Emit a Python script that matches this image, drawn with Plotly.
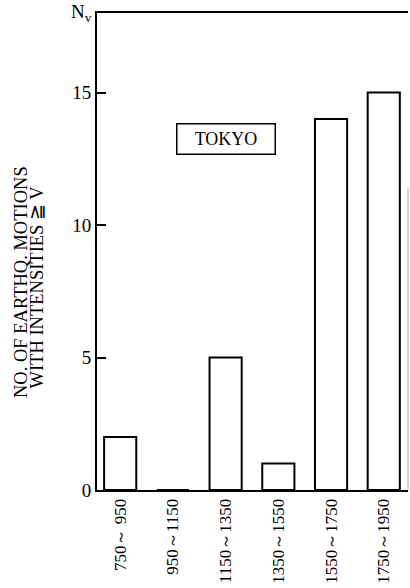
import plotly.graph_objects as go

categories = ["750～ 950", "950～1150", "1150～1350", "1350～1550", "1550～1750", "1750～1950"]
counts = [2, 0, 5, 1, 14, 15]
y_ticks = [0, 5, 10, 15]

SERIF = "Liberation Serif, Times New Roman, DejaVu Serif, serif"

fig = go.Figure()
fig.add_trace(go.Bar(
    x=categories, y=counts, width=0.61,
    marker=dict(color="white", line=dict(color="black", width=2)),
))

fig.update_layout(
    width=410, height=588,
    margin=dict(l=97, r=2, t=13, b=98, autoexpand=False),
    paper_bgcolor="white", plot_bgcolor="white",
    showlegend=False,
    font=dict(family=SERIF, color="black", size=18),
    xaxis=dict(
        type="category", range=[-0.44, 5.46], automargin=False,
        showline=True, linecolor="black", linewidth=2, mirror=True,
        ticks="", tickangle=-90, showgrid=False, zeroline=False,
        tickfont=dict(family=SERIF, size=17),
    ),
    yaxis=dict(
        range=[0, 18], tickvals=y_ticks, automargin=False,
        showline=True, linecolor="black", linewidth=2,
        ticks="inside", ticklen=9, tickwidth=1.5, tickcolor="black",
        showgrid=False, zeroline=False,
        tickfont=dict(family=SERIF, size=19),
    ),
)

# faint right border
fig.add_shape(type="line", xref="paper", yref="y", x0=1, x1=1, y0=0, y1=11.4,
              line=dict(color="#aaaaaa", width=1))

# N_v label
fig.add_annotation(text="N<sub>v</sub>", xref="paper", yref="paper", x=0, y=1,
                   xanchor="right", yanchor="middle", xshift=-3, showarrow=False,
                   font=dict(family=SERIF, size=19))

# axis title (two lines)
fig.add_annotation(text="NO. OF EARTHQ. MOTIONS", xref="paper", yref="paper",
                   x=(20.5 - 97) / 311, y=(489.5 - 282) / 477, textangle=-90,
                   xanchor="center", yanchor="middle", showarrow=False,
                   font=dict(family=SERIF, size=18.5))
fig.add_annotation(text="WITH INTENSITIES ≧ V", xref="paper", yref="paper",
                   x=(36 - 97) / 311, y=(489.5 - 287) / 477, textangle=-90,
                   xanchor="center", yanchor="middle", showarrow=False,
                   font=dict(family=SERIF, size=18.5))

# TOKYO box
fig.add_annotation(text="TOKYO", x=2, y=13.25, xref="x", yref="y", showarrow=False,
                   width=95, height=27, bordercolor="black", borderwidth=1.5, borderpad=1,
                   bgcolor="white", font=dict(family=SERIF, size=18))

fig.write_html("out.html")
